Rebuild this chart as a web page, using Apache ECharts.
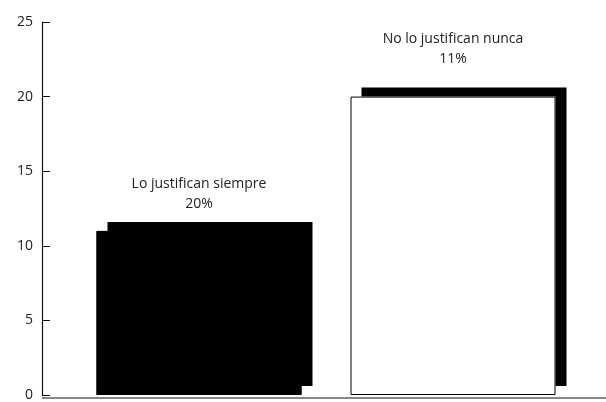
<!DOCTYPE html>
<html>
<head>
<meta charset="utf-8">
<script src="https://cdn.jsdelivr.net/npm/echarts@6/dist/echarts.min.js"></script>
<style>
  html, body { margin: 0; padding: 0; background: #fff; }
  #chart { width: 606px; height: 402px; }
</style>
</head>
<body>
<div id="chart"></div>
<script>
// Attitudes: two groups, bar height on the 0–25 scale, share printed under the name
var categories = ['Lo justifican siempre', 'No lo justifican nunca'];
var values = [11, 20];
var shares = ['20%', '11%'];
var fills = ['#000000', '#ffffff'];
var labelGaps = [17, 28];
var yTicks = [0, 5, 10, 15, 20, 25];

var chart = echarts.init(document.getElementById('chart'), null, { renderer: 'canvas' });

var FONT = '"Open Sans", "Noto Sans", sans-serif';

chart.setOption({
  backgroundColor: '#ffffff',
  animation: false,
  grid: { left: 72, right: 26, top: 22, bottom: 4 },
  xAxis: {
    type: 'category',
    data: categories,
    axisLine: { show: false },
    axisTick: { show: false },
    axisLabel: { show: false }
  },
  yAxis: {
    type: 'value',
    min: yTicks[0],
    max: yTicks[yTicks.length - 1],
    interval: 5,
    offset: 30,
    axisLine: { show: true, lineStyle: { color: '#111', width: 1.2 } },
    axisTick: { show: true, inside: true, length: 8, lineStyle: { color: '#111', width: 1 } },
    axisLabel: { color: '#222', fontSize: 14, fontFamily: FONT, margin: 9 },
    splitLine: { show: false }
  },
  series: [{
    // filled bars with a hard drop shadow up and to the right
    type: 'bar',
    barWidth: 205,
    barGap: '-100%',
    data: values.map(function (v, i) {
      return {
        value: v,
        itemStyle: {
          color: fills[i],
          shadowColor: '#000',
          shadowBlur: 0,
          shadowOffsetX: 11,
          shadowOffsetY: -9
        },
        label: { distance: labelGaps[i] }
      };
    }),
    label: {
      show: true,
      position: 'top',
      color: '#222',
      fontSize: 14,
      lineHeight: 20,
      fontFamily: FONT,
      formatter: function (p) { return categories[p.dataIndex] + '\n' + shares[p.dataIndex]; }
    }
  }, {
    // thin outline drawn over the filled bars
    type: 'bar',
    barWidth: 205,
    barGap: '-100%',
    silent: true,
    data: values,
    itemStyle: { color: 'rgba(0,0,0,0)', borderColor: '#000', borderWidth: 1 }
  }],
  graphic: [{
    type: 'line',
    z: 10,
    shape: { x1: 42, y1: 398, x2: 606, y2: 398 },
    style: { stroke: '#111', lineWidth: 1.2 }
  }]
});
</script>
</body>
</html>
